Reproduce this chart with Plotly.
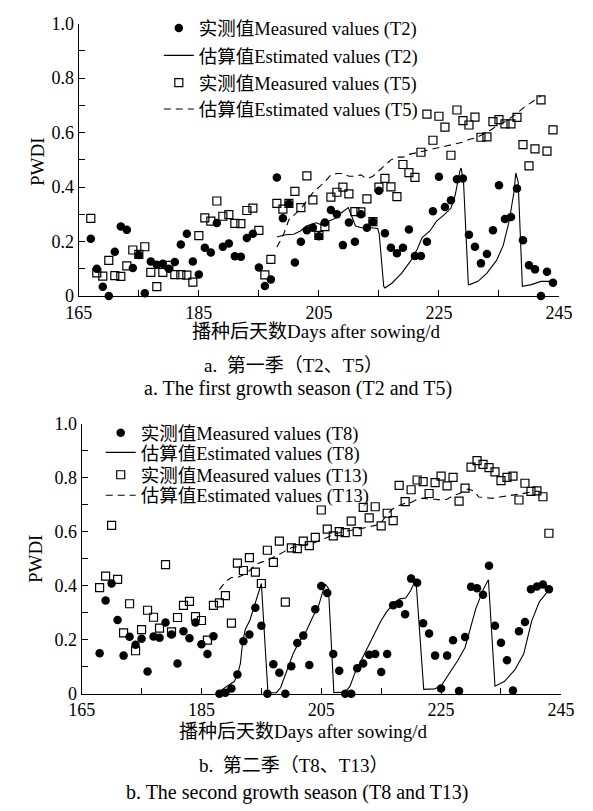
import plotly.graph_objects as go

W, H = 593, 811
FONT_TICK = "Liberation Serif"
FONT_LEG = "Times New Roman, Noto Sans CJK SC"
FONT_TXT = "Liberation Serif, Noto Sans CJK SC"

# ---------------- data: first season (T2, T5) ----------------
days_a = list(range(167, 245))
meas_t2 = [0.21, 0.10, 0.034, 0.0, 0.163, 0.255, 0.243, 0.103, 0.151, 0.01,
           0.127, 0.115, 0.119, 0.10, 0.125, 0.189, 0.229, 0.127, 0.079, 0.177,
           0.16, 0.268, 0.181, 0.193, 0.146, 0.144, 0.213, 0.229, 0.105, 0.037,
           0.061, 0.435, 0.286, 0.339, 0.123, 0.199, 0.242, 0.251, 0.22, 0.27,
           0.316, 0.30, 0.187, 0.27, 0.199, 0.30, 0.251, 0.273, 0.387, 0.231,
           0.177, 0.157, 0.177, 0.244, 0.147, 0.147, 0.199, 0.311, 0.438, 0.327,
           0.352, 0.429, 0.432, 0.225, 0.181, 0.12, 0.154, 0.242, 0.407, 0.283,
           0.29, 0.395, 0.205, 0.113, 0.098, 0.0, 0.089, 0.049]
meas_t5 = [0.285, 0.085, 0.073, 0.131, 0.075, 0.072, 0.111, 0.169, 0.153, 0.181,
           0.087, 0.035, 0.087, 0.113, 0.079, 0.079, 0.077, 0.051, 0.222, 0.287,
           0.275, 0.349, 0.293, 0.299, 0.267, 0.266, 0.314, 0.323, 0.241, 0.078,
           0.135, 0.34, 0.319, 0.34, 0.384, 0.325, 0.441, 0.353, 0.223, 0.255,
           0.363, 0.381, 0.40, 0.375, 0.31, 0.309, 0.357, 0.273, 0.40, 0.432,
           0.401, 0.365, 0.483, 0.453, 0.436, 0.528, 0.668, 0.572, 0.66, 0.62,
           0.517, 0.683, 0.644, 0.628, 0.657, 0.583, 0.584, 0.64, 0.648, 0.632,
           0.632, 0.656, 0.556, 0.478, 0.54, 0.72, 0.532, 0.61]
est_t2_days = [198.0, 199.4, 200.8, 202.0, 202.9, 204.5, 205.8, 206.6, 207.9, 208.7,
               209.9, 210.6, 211.1, 212.1, 213.7, 214.8, 215.05, 215.8, 216.0, 217.2,
               218.8, 220.35, 221.4, 222.2, 223.5, 224.6, 225.9, 227.0, 227.7, 228.5,
               228.7, 229.1, 229.9, 230.1, 231.5, 233.0, 234.6, 235.7, 236.7, 237.5,
               237.8, 238.2, 238.9, 240.4, 242.0, 243.6]
est_t2_vals = [0.217, 0.225, 0.227, 0.24, 0.257, 0.269, 0.259, 0.275, 0.287, 0.305,
               0.325, 0.281, 0.257, 0.251, 0.251, 0.248, 0.227, 0.036, 0.03, 0.048,
               0.084, 0.131, 0.173, 0.215, 0.239, 0.275, 0.299, 0.323, 0.37, 0.46,
               0.47, 0.418, 0.042, 0.042, 0.054, 0.084, 0.131, 0.185, 0.275, 0.382,
               0.452, 0.418, 0.036, 0.042, 0.054, 0.054]
est_t5_days = list(range(198, 243))
est_t5_vals = [0.18, 0.22, 0.28, 0.30, 0.32, 0.35, 0.38, 0.40, 0.42, 0.445,
               0.45, 0.45, 0.44, 0.44, 0.445, 0.43, 0.44, 0.46, 0.48, 0.50,
               0.51, 0.51, 0.52, 0.525, 0.53, 0.535, 0.54, 0.545, 0.55, 0.555,
               0.56, 0.565, 0.575, 0.58, 0.59, 0.60, 0.615, 0.63, 0.64, 0.655,
               0.67, 0.69, 0.705, 0.72, 0.735]

# ---------------- data: second season (T8, T13) ----------------
days_b = list(range(168, 244))
meas_t8 = [0.15, 0.345, 0.408, 0.273, 0.141, 0.211, 0.181, 0.203, 0.082, 0.212,
           0.207, 0.264, 0.219, 0.112, 0.231, 0.205, 0.264, 0.183, 0.147, 0.213,
           0.0, 0.004, 0.019, 0.071, 0.194, 0.219, 0.318, 0.252, 0.0, 0.109,
           0.078, 0.0, 0.102, 0.188, 0.215, 0.106, 0.313, 0.399, 0.373, 0.147,
           0.085, 0.0, 0.0, 0.094, 0.112, 0.144, 0.147, 0.08, 0.147, 0.327,
           0.333, 0.294, 0.426, 0.411, 0.261, 0.223, 0.141, 0.019, 0.141, 0.198,
           0.01, 0.21, 0.396, 0.39, 0.366, 0.474, 0.252, 0.189, 0.124, 0.012,
           0.231, 0.265, 0.387, 0.397, 0.404, 0.387]
meas_t13 = [0.393, 0.435, 0.623, 0.423, 0.225, 0.333, 0.159, 0.237, 0.309, 0.283,
            0.243, 0.478, 0.229, 0.282, 0.327, 0.342, 0.285, 0.271, 0.198, 0.327,
            0.336, 0.363, 0.261, 0.483, 0.456, 0.504, 0.45, 0.408, 0.531, 0.486,
            0.565, 0.339, 0.54, 0.537, 0.565, 0.548, 0.579, 0.68, 0.609, 0.584,
            0.60, 0.596, 0.639, 0.60, 0.69, 0.651, 0.692, 0.621, 0.668, 0.641,
            0.771, 0.711, 0.755, 0.791, 0.785, 0.741, 0.781, 0.805, 0.769, 0.801,
            0.713, 0.761, 0.839, 0.863, 0.849, 0.837, 0.821, 0.789, 0.801, 0.805,
            0.717, 0.779, 0.749, 0.751, 0.729, 0.594]
est_t8_days = [187.8, 189.4, 190.5, 191.1, 191.5, 191.9, 192.3, 193.1, 193.9, 194.4,
               195.0, 196.1, 197.5, 198.2, 199.3, 200.3, 201.4, 202.5, 203.5, 204.6,
               205.4, 205.7, 206.2, 207.1, 209.0, 209.8, 210.6, 211.7, 212.7, 213.8,
               214.9, 215.9, 217.3, 218.1, 219.1, 219.9, 220.4, 220.8, 222.1, 223.9,
               225.0, 226.4, 227.8, 229.0, 229.9, 230.8, 232.1, 232.9, 234.0, 235.6,
               237.3, 238.8, 240.1, 241.4, 242.7, 243.2]
est_t8_vals = [0.006, 0.028, 0.046, 0.076, 0.112, 0.195, 0.237, 0.273, 0.327, 0.363,
               0.408, 0.003, 0.004, 0.022, 0.088, 0.148, 0.196, 0.232, 0.28, 0.329,
               0.389, 0.405, 0.39, 0.004, 0.006, 0.028, 0.076, 0.124, 0.171, 0.219,
               0.267, 0.303, 0.339, 0.351, 0.354, 0.381, 0.405, 0.423, 0.016, 0.018,
               0.028, 0.076, 0.124, 0.171, 0.243, 0.315, 0.389, 0.422, 0.028, 0.046,
               0.088, 0.148, 0.268, 0.34, 0.376, 0.383]
est_t13_days = [188, 189, 190, 191, 192, 193, 194, 195, 196, 197,
                198, 199, 200, 201, 202, 203, 204, 205, 206, 207,
                208, 209, 210, 211, 212, 213, 214, 215, 216, 217,
                218, 219, 220, 221, 222, 223, 224, 225, 226, 227,
                228, 229, 229.5, 230.5, 231.3, 232.4, 233.5, 234.8, 236.1, 237.4,
                238.5, 240.1, 241.2, 242.2]
est_t13_vals = [0.385, 0.415, 0.43, 0.43, 0.44, 0.455, 0.478, 0.487, 0.493, 0.505,
                0.515, 0.53, 0.54, 0.545, 0.55, 0.555, 0.56, 0.57, 0.578, 0.59,
                0.597, 0.602, 0.605, 0.608, 0.613, 0.618, 0.623, 0.633, 0.665, 0.685,
                0.697, 0.705, 0.708, 0.72, 0.724, 0.72, 0.72, 0.717, 0.72, 0.733,
                0.74, 0.75, 0.758, 0.75, 0.728, 0.726, 0.723, 0.728, 0.732, 0.735,
                0.74, 0.747, 0.75, 0.74]

# ---------------- labels ----------------
x_ticks = [165, 185, 205, 225, 245]
y_ticks = [0, 0.2, 0.4, 0.6, 0.8, 1.0]
y_ticktext = ["0", "0.2", "0.4", "0.6", "0.8", "1.0"]
names_a = ["实测值Measured values (T2)", "估算值Estimated values (T2)",
           "实测值Measured values (T5)", "估算值Estimated values (T5)"]
names_b = ["实测值Measured values (T8)", "估算值Estimated values (T8)",
           "实测值Measured values (T13)", "估算值Estimated values (T13)"]
x_title = "播种后天数Days after sowing/d"
y_title = "PWDI"
captions = ["a.  第一季（T2、T5）", "a. The first growth season (T2 and T5)",
            "b.  第二季（T8、T13）", "b. The second growth season (T8 and T13)"]


def px_x(p):
    return p / W


def px_y(p):
    return 1 - p / H


fig = go.Figure()

circle = dict(symbol="circle", size=8.5, color="black")
square = dict(symbol="square-open", size=8, color="black", line=dict(width=1.2, color="black"))
DASH = "7px,5px"

fig.add_trace(go.Scatter(x=days_a, y=meas_t2, mode="markers", marker=circle, name=names_a[0],
                         xaxis="x", yaxis="y", cliponaxis=False, legend="legend"))
fig.add_trace(go.Scatter(x=est_t2_days, y=est_t2_vals, mode="lines", line=dict(color="black", width=1.1),
                         name=names_a[1], xaxis="x", yaxis="y", cliponaxis=False, legend="legend2"))
fig.add_trace(go.Scatter(x=days_a, y=meas_t5, mode="markers", marker=square, name=names_a[2],
                         xaxis="x", yaxis="y", cliponaxis=False, legend="legend3"))
fig.add_trace(go.Scatter(x=est_t5_days, y=est_t5_vals, mode="lines",
                         line=dict(color="black", width=1.1, dash=DASH),
                         name=names_a[3], xaxis="x", yaxis="y", cliponaxis=False, legend="legend4"))
fig.add_trace(go.Scatter(x=days_b, y=meas_t8, mode="markers", marker=circle, name=names_b[0],
                         xaxis="x2", yaxis="y2", cliponaxis=False, legend="legend5"))
fig.add_trace(go.Scatter(x=est_t8_days, y=est_t8_vals, mode="lines", line=dict(color="black", width=1.1),
                         name=names_b[1], xaxis="x2", yaxis="y2", cliponaxis=False, legend="legend6"))
fig.add_trace(go.Scatter(x=days_b, y=meas_t13, mode="markers", marker=square, name=names_b[2],
                         xaxis="x2", yaxis="y2", cliponaxis=False, legend="legend7"))
fig.add_trace(go.Scatter(x=est_t13_days, y=est_t13_vals, mode="lines",
                         line=dict(color="black", width=1.1, dash=DASH),
                         name=names_b[3], xaxis="x2", yaxis="y2", cliponaxis=False, legend="legend8"))

axis_common = dict(showline=True, linecolor="black", linewidth=1.3, showgrid=False, zeroline=False,
                   ticks="inside", ticklen=6, tickwidth=1.2, tickcolor="black",
                   tickfont=dict(family=FONT_TICK, size=18, color="black"), mirror=False)
xcommon = dict(axis_common, range=[165, 245], tickvals=x_ticks,
               minor=dict(ticks="inside", ticklen=6, tickwidth=1.2, tickcolor="black", dtick=10, tick0=165,
                          showgrid=False))
ycommon = dict(axis_common, range=[0, 1.0], tickvals=y_ticks, ticktext=y_ticktext,
               minor=dict(ticks="inside", ticklen=6, tickwidth=1.2, tickcolor="black", dtick=0.1, tick0=0,
                          showgrid=False))

legend_rows_a = [19, 47, 75, 102]
legend_rows_b = [434, 454, 477, 498]
legends = {}
keys = ["legend", "legend2", "legend3", "legend4", "legend5", "legend6", "legend7", "legend8"]
for i, k in enumerate(keys):
    if i < 4:
        lx, ly = 152, legend_rows_a[i]
    else:
        lx, ly = 91, legend_rows_b[i - 4]
    legends[k] = dict(x=px_x(lx), y=px_y(ly), xanchor="left", yanchor="middle",
                      bgcolor="rgba(0,0,0,0)", borderwidth=0,
                      font=dict(family=FONT_LEG, size=18.5, color="black"))

ann_font = dict(family=FONT_TXT, size=19, color="black")
cap_font = dict(family=FONT_TXT, size=20, color="black")
annotations = [
    dict(text=y_title, x=px_x(24), y=px_y(155), textangle=-90, font=ann_font),
    dict(text=y_title, x=px_x(22), y=px_y(562), textangle=-90, font=ann_font),
    dict(text=x_title, x=px_x(317.5), y=px_y(330), font=ann_font),
    dict(text=x_title, x=px_x(304), y=px_y(740), font=ann_font),
    dict(text=captions[0], x=px_x(293), y=px_y(365), font=ann_font),
    dict(text=captions[1], x=px_x(298), y=px_y(388), font=cap_font),
    dict(text=captions[2], x=px_x(293), y=px_y(775), font=ann_font),
    dict(text=captions[3], x=px_x(297.5), y=px_y(802), font=cap_font),
]
for a in annotations:
    a.update(xref="paper", yref="paper", showarrow=False, xanchor="center", yanchor="middle")

fig.update_layout(
    width=W, height=H, margin=dict(l=0, r=0, t=0, b=0),
    paper_bgcolor="white", plot_bgcolor="white",
    font=dict(family=FONT_TXT, size=18, color="black"),
    xaxis=dict(xcommon, domain=[px_x(68), px_x(572)], anchor="y"),
    yaxis=dict(ycommon, domain=[px_y(293.3), px_y(14)], anchor="x"),
    xaxis2=dict(xcommon, domain=[px_x(71), px_x(574)], anchor="y2"),
    yaxis2=dict(ycommon, domain=[px_y(701), px_y(424)], anchor="x2"),
    annotations=annotations,
    showlegend=True,
    **legends,
)

fig.write_html("out.html")
